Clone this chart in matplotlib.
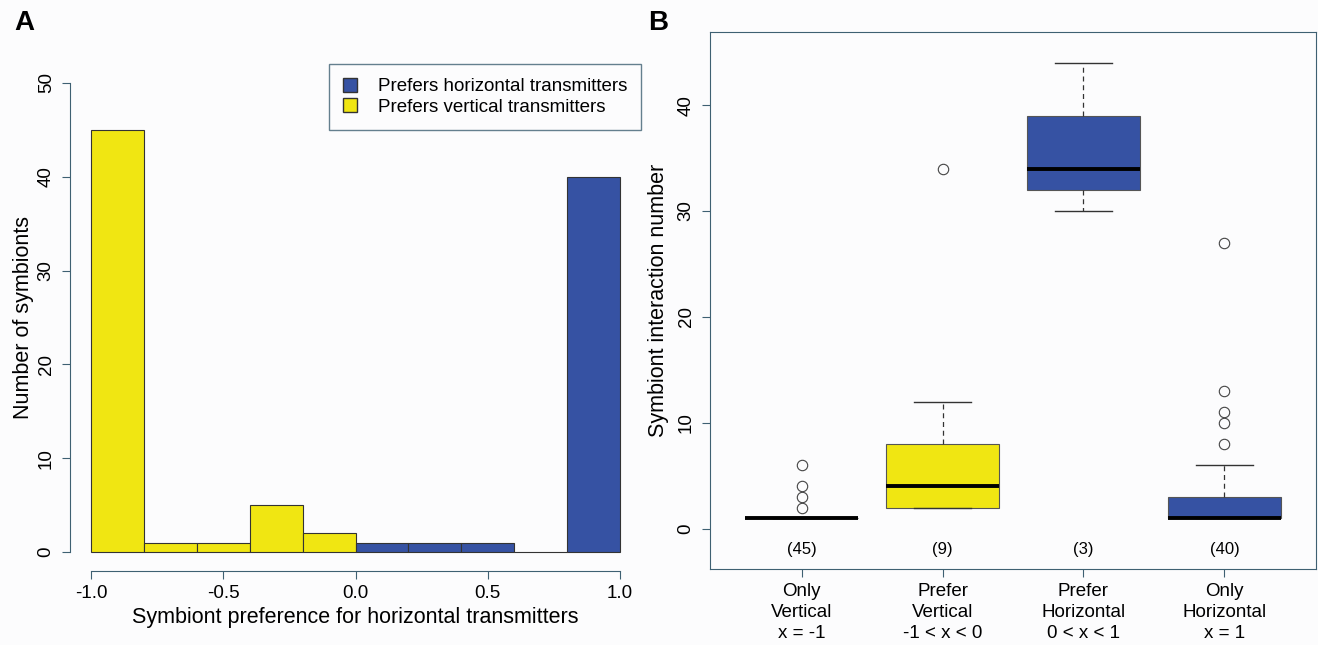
import numpy as np
import matplotlib.pyplot as plt
from matplotlib.patches import Patch

plt.rcParams['font.family'] = ['Liberation Sans', 'DejaVu Sans']

# panel A: histogram of preference
bin_edges = [-1.0, -0.8, -0.6, -0.4, -0.2, 0.0, 0.2, 0.4, 0.6, 0.8, 1.0]
counts = [45, 1, 1, 5, 2, 1, 1, 1, 0, 40]

# panel B: box summaries
groups = ["Only\nVertical\nx = -1", "Prefer\nVertical\n-1 < x < 0",
          "Prefer\nHorizontal\n0 < x < 1", "Only\nHorizontal\nx = 1"]
n_labels = ["(45)", "(9)", "(3)", "(40)"]
q1 = [1, 2, 32, 1]
med = [1, 4, 34, 1]
q3 = [1, 8, 39, 3]
whislo = [1, 2, 30, 1]
whishi = [1, 12, 44, 6]
fliers = [[2, 3, 4, 6], [34], [], [8, 10, 11, 13, 27]]

yellow = "#f0e612"
blue = "#3652a3"
axcol = "#3e6072"
bg = "#fcfcfd"
W, H = 1318, 645

fig = plt.figure(figsize=(13.18, 6.45), dpi=100, facecolor=bg)

# ---------- A ----------
axA = fig.add_axes([70/W, (H-571)/H, 571/W, 507/H], facecolor=bg)
lefts = np.array(bin_edges[:-1])
cols = [yellow if l < 0 else blue for l in lefts]
axA.bar(lefts, counts, width=0.2, align="edge", color=cols,
        edgecolor="#333333", linewidth=0.8)
axA.set_xlim(-1.08, 1.08)
axA.set_ylim(-2, 52)
for s in ["top", "right"]:
    axA.spines[s].set_visible(False)
axA.spines["left"].set_bounds(0, 50)
axA.spines["bottom"].set_bounds(-1, 1)
for s in ["left", "bottom"]:
    axA.spines[s].set_color(axcol)
axA.set_yticks([0, 10, 20, 30, 40, 50])
axA.set_xticks([-1.0, -0.5, 0.0, 0.5, 1.0])
axA.set_xticklabels(["-1.0", "-0.5", "0.0", "0.5", "1.0"])
axA.tick_params(axis="both", colors=axcol, labelcolor="black", labelsize=13.5,
                length=6, direction="out")
axA.tick_params(axis="y", pad=5)
axA.tick_params(axis="x", pad=4)
for t in axA.get_yticklabels():
    t.set_rotation(90)
    t.set_va("center")
axA.set_xlabel("Symbiont preference for horizontal transmitters", fontsize=15.5, labelpad=4)
axA.set_ylabel("Number of symbionts", fontsize=15.5, labelpad=3)
leg = axA.legend(handles=[Patch(facecolor=blue, edgecolor="#333333", label="Prefers horizontal transmitters"),
                          Patch(facecolor=yellow, edgecolor="#333333", label="Prefers vertical transmitters")],
                 loc="upper right", bbox_to_anchor=(1.0, 1.0), borderaxespad=0,
                 fontsize=13.5, fancybox=False, handlelength=0.75, handleheight=0.75,
                 borderpad=0.75, labelspacing=0.15, handletextpad=1.1)
leg.get_frame().set_edgecolor(axcol)
leg.get_frame().set_facecolor(bg)
leg.get_frame().set_linewidth(1.0)
fig.text(14/W, 1 - 23/H, "A", fontsize=20, fontweight="bold", va="center")

# ---------- B ----------
axB = fig.add_axes([710/W, (H-569)/H, 606/W, 537/H], facecolor=bg)
stats = []
for i in range(len(groups)):
    stats.append(dict(q1=q1[i], med=med[i], q3=q3[i], whislo=whislo[i],
                      whishi=whishi[i], fliers=fliers[i]))
box_cols = ["white", yellow, blue, blue]
bp = axB.bxp(stats, positions=[1, 2, 3, 4], widths=0.8, patch_artist=True,
             boxprops=dict(edgecolor="#555555", linewidth=0.8),
             medianprops=dict(color="black", linewidth=2.8),
             whiskerprops=dict(color="#333333", linestyle=(0, (4, 3)), linewidth=0.9),
             capprops=dict(color="#333333", linewidth=1.0),
             flierprops=dict(marker="o", markerfacecolor="none", markeredgecolor="#444444",
                             markersize=7.5, markeredgewidth=0.8),
             capwidths=0.4)
for patch, c in zip(bp["boxes"], box_cols):
    patch.set_facecolor(c)
for i, lab in enumerate(n_labels):
    axB.text(i + 1, -2, lab, ha="center", va="center", fontsize=12)
axB.set_xlim(0.35, 4.65)
axB.set_ylim(-3.8, 46.9)
axB.set_xticks([1, 2, 3, 4])
axB.set_xticklabels(groups, fontsize=13.5, linespacing=1.3)
axB.set_yticks([0, 10, 20, 30, 40])
axB.tick_params(axis="both", colors=axcol, labelcolor="black", labelsize=13.5,
                length=6, direction="out")
axB.tick_params(axis="y", pad=5)
axB.tick_params(axis="x", pad=4)
for t in axB.get_yticklabels():
    t.set_rotation(90)
    t.set_va("center")
for s in axB.spines.values():
    s.set_color(axcol)
axB.set_ylabel("Symbiont interaction number", fontsize=15.5, labelpad=6)
fig.text(648/W, 1 - 23/H, "B", fontsize=20, fontweight="bold", va="center")

fig.savefig("out.png", dpi=100, facecolor=bg)
